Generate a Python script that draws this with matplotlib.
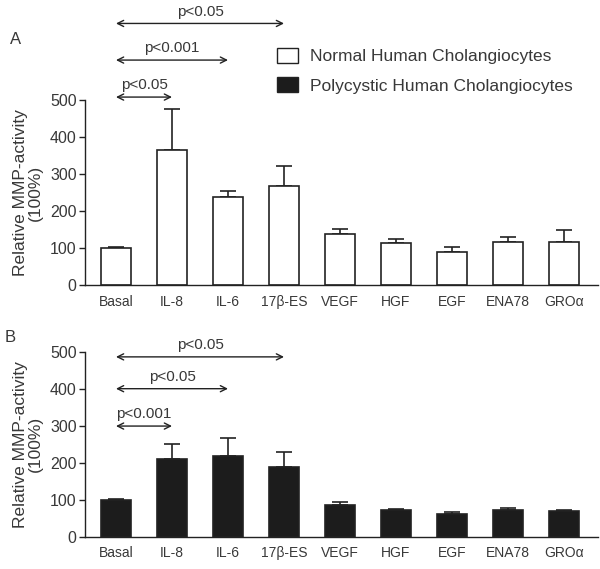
import numpy as np
import matplotlib.pyplot as plt
from matplotlib.patches import Patch

plt.rcParams['font.family'] = ['Liberation Sans', 'DejaVu Sans']

# ── Data ─────────────────────────────────────────────────────────────────────
categories = ['Basal', 'IL-8', 'IL-6', '17β-ES', 'VEGF', 'HGF', 'EGF', 'ENA78', 'GROα']

normal_mean = [100, 365, 238, 268, 138, 113, 89, 117, 117]
normal_err = [4, 112, 17, 54, 14, 12, 14, 13, 31]

poly_mean = [99, 209, 218, 188, 86, 73, 62, 73, 70]
poly_err = [2, 42, 50, 40, 8, 2, 6, 4, 2]

# significance brackets: (from index, to index, height, label)
sig_normal = [(0, 1, 508, 'p<0.05'), (0, 2, 608, 'p<0.001'), (0, 3, 707, 'p<0.05')]
sig_poly = [(0, 1, 299, 'p<0.001'), (0, 2, 400, 'p<0.05'), (0, 3, 486, 'p<0.05')]

TXT = '#383838'
EDGE = '#222222'

fig = plt.figure(figsize=(6, 5.69), dpi=100)
ax_a = fig.add_axes([0.1417, 0.4991, 0.855, 0.3251])
ax_b = fig.add_axes([0.1417, 0.0568, 0.855, 0.3251])

x = np.arange(len(categories))

for ax, means, errs, face, sigs in [
    (ax_a, normal_mean, normal_err, 'white', sig_normal),
    (ax_b, poly_mean, poly_err, '#1c1c1c', sig_poly),
]:
    ax.bar(x, means, width=0.535, color=face, edgecolor=EDGE, linewidth=1.2, zorder=2)
    ax.errorbar(x, means, yerr=[np.zeros(len(errs)), errs], fmt='none',
                ecolor=EDGE, elinewidth=1.2, capsize=5.5, capthick=1.2, zorder=1)

    ax.set_xlim(-0.553, 8.607)
    ax.set_ylim(0, 500)
    ax.set_yticks([0, 100, 200, 300, 400, 500])
    ax.set_xticks(x)
    ax.set_xticklabels(categories, fontsize=10, color=TXT)
    ax.tick_params(axis='x', length=0, pad=7)
    ax.tick_params(axis='y', length=4, width=1, labelsize=11.5, colors=EDGE,
                   labelcolor=TXT, pad=2)
    for s in ['top', 'right']:
        ax.spines[s].set_visible(False)
    for s in ['left', 'bottom']:
        ax.spines[s].set_color(EDGE)
        ax.spines[s].set_linewidth(1.0)
    ax.set_ylabel('Relative MMP-activity\n(100%)', fontsize=12.5, color=TXT,
                  labelpad=5, linespacing=1.0)

    for i0, i1, h, lab in sigs:
        ax.annotate('', xy=(x[i1], h), xytext=(x[i0], h), xycoords='data',
                    arrowprops=dict(arrowstyle='<->', color=EDGE, lw=1.0,
                                    shrinkA=0, shrinkB=0, mutation_scale=11),
                    annotation_clip=False)
        ax.annotate(lab, xy=((x[i0] + x[i1]) / 2, h), xytext=(0, 3.5),
                    textcoords='offset points', ha='center', va='bottom',
                    fontsize=11, color=TXT, annotation_clip=False)

# panel letters
fig.text(16 / 600, 1 - 39 / 569, 'A', fontsize=12, color=TXT, ha='center', va='center')
fig.text(10 / 600, 1 - 337 / 569, 'B', fontsize=12, color=TXT, ha='center', va='center')

# legend
handles = [Patch(facecolor='white', edgecolor=EDGE, linewidth=1.0),
           Patch(facecolor='#1c1c1c', edgecolor=EDGE, linewidth=1.0)]
fig.legend(handles, ['Normal Human Cholangiocytes', 'Polycystic Human Cholangiocytes'],
           loc='upper left', bbox_to_anchor=(277 / 600, 1 - 48 / 569), frameon=False,
           fontsize=12.5, labelcolor=TXT, handlelength=1.2, handleheight=0.95,
           handletextpad=0.7, labelspacing=0.75, borderaxespad=0, borderpad=0)

fig.savefig('out.png', dpi=100)
